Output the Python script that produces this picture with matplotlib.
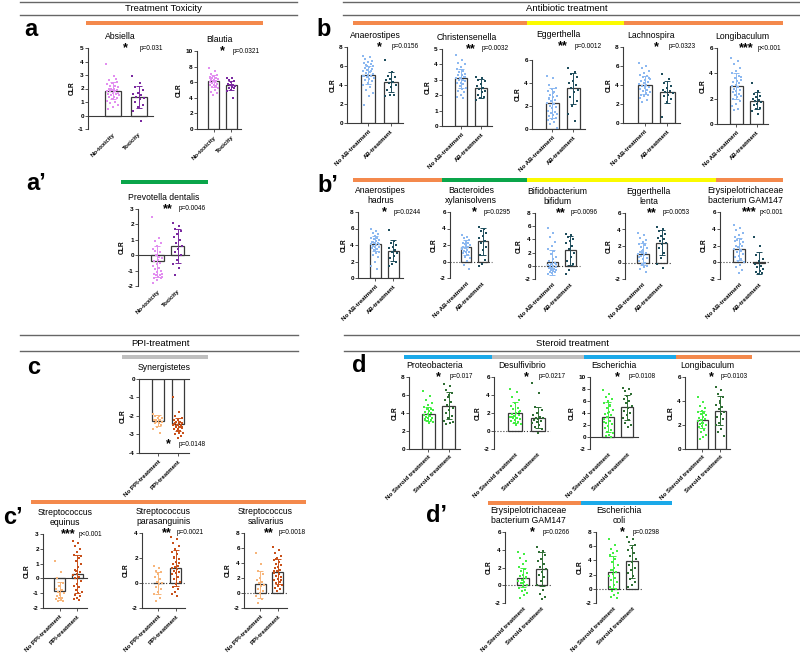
import numpy as np
import matplotlib
matplotlib.use('Agg')
import matplotlib.pyplot as plt
from matplotlib.lines import Line2D
from matplotlib.patches import Rectangle
from matplotlib.transforms import offset_copy

plt.rcParams['font.family'] = ['Liberation Sans', 'DejaVu Sans']
plt.rcParams['axes.unicode_minus'] = False

W, H = 800, 654

# ---- data (CLR values) ----
tox_labels = ['No-toxicity', 'Toxicity']
ab_labels = ['No AB-treatment', 'AB-treatment']
ppi_labels = ['No PPI-treatment', 'PPI-treatment']
st_labels = ['No Steroid treatment', 'Steroid treatment']

# a
absiella_means = [1.85, 1.35]
absiella_sd = [0.6, 0.8]
absiella_no = [3.8, 2.9, 2.6, 2.5, 2.4, 2.3, 2.2, 2.2, 2.1, 2.0, 2.0, 1.9, 1.9, 1.8, 1.8, 1.8, 1.7,
               1.7, 1.6, 1.6, 1.5, 1.5, 1.4, 1.4, 1.3, 1.2, 1.1, 1.0, 0.9, 0.8, 0.6, 0.5, 2.7, 2.0]
absiella_tox = [2.9, 2.4, 2.1, 1.9, 1.7, 1.6, 1.5, 1.4, 1.3, 1.2, 1.0, 0.8, 0.6, 0.3, -0.4]
blautia_means = [6.15, 5.6]
blautia_sd = [0.8, 0.6]
blautia_no = [7.8, 7.4, 7.1, 6.9, 6.8, 6.7, 6.6, 6.5, 6.4, 6.3, 6.3, 6.2, 6.1, 6.0, 6.0, 5.9, 5.8,
              5.7, 5.6, 5.5, 5.4, 5.2, 5.0, 4.8, 4.6, 4.3, 6.5, 6.1]
blautia_tox = [6.6, 6.5, 6.3, 6.1, 6.0, 5.8, 5.7, 5.6, 5.5, 5.4, 5.3, 5.2, 5.0, 4.9, 4.0]
# a'
prevotella_means = [-0.4, 0.6]
prevotella_sd = [1.0, 1.1]
prevotella_no = [2.5, 1.1, 0.9, 0.8, 0.6, 0.4, 0.2, 0.0, -0.2, -0.3, -0.4, -0.5, -0.6, -0.7, -0.8,
                 -0.9, -1.0, -1.1, -1.2, -1.3, -1.3, -1.4, -1.4, -1.5, -1.5, -1.6, -1.8, -0.1, 0.3, -1.2]
prevotella_tox = [2.1, 1.9, 1.7, 1.6, 1.4, 1.2, 1.0, 0.8, 0.6, 0.4, 0.2, 0.0, -0.3, -0.6, -0.8, -1.3]

# b
anaero_means = [5.1, 4.35]
anaero_sd = [0.95, 1.05]
anaero_no = [7.1, 6.9, 6.7, 6.5, 6.4, 6.3, 6.2, 6.1, 6.0, 5.9, 5.8, 5.7, 5.6, 5.5, 5.4, 5.3, 5.2, 5.1,
             5.0, 4.9, 4.8, 4.7, 4.6, 4.5, 4.4, 4.2, 4.0, 3.8, 3.5, 3.2, 2.8, 1.9, 5.5, 6.0, 4.9]
anaero_ab = [6.6, 5.4, 5.0, 4.8, 4.6, 4.5, 4.3, 4.2, 4.0, 3.8, 3.5, 3.0, 2.9, 2.8]
christ_means = [3.1, 2.45]
christ_sd = [0.6, 0.6]
christ_no = [4.6, 4.3, 4.1, 4.0, 3.8, 3.7, 3.6, 3.5, 3.4, 3.3, 3.3, 3.2, 3.1, 3.1, 3.0, 3.0, 2.9,
             2.8, 2.8, 2.7, 2.6, 2.5, 2.4, 2.3, 2.2, 2.0, 1.9, 1.8, 3.5, 3.2]
christ_ab = [3.2, 3.1, 3.0, 2.9, 2.7, 2.6, 2.5, 2.4, 2.3, 2.2, 2.0, 1.9, 1.8, 1.7]
egger_means = [2.25, 3.55]
egger_sd = [1.3, 1.35]
egger_no = [4.6, 4.4, 3.8, 3.6, 3.5, 3.3, 3.2, 3.0, 2.9, 2.8, 2.6, 2.5, 2.4, 2.3, 2.2, 2.0, 1.9,
            1.8, 1.6, 1.5, 1.4, 1.3, 1.2, 1.1, 1.0, 0.9, 0.8, 0.6, 0.4, 0.1, 3.1, 2.7]
egger_ab = [5.3, 5.0, 4.8, 4.5, 4.2, 4.0, 3.8, 3.6, 3.4, 3.2, 2.8, 2.4, 2.0, 1.3, 0.7]
lachno_means = [4.0, 3.3]
lachno_sd = [0.95, 1.15]
lachno_no = [6.3, 6.0, 5.8, 5.5, 5.3, 5.1, 4.9, 4.8, 4.6, 4.5, 4.4, 4.3, 4.2, 4.1, 4.0, 3.9, 3.8,
             3.7, 3.6, 3.5, 3.4, 3.3, 3.2, 3.0, 2.9, 2.8, 2.6, 2.4, 2.2, 4.7, 3.9]
lachno_ab = [5.2, 4.6, 4.2, 3.9, 3.7, 3.5, 3.4, 3.3, 3.2, 3.0, 2.8, 2.5, 2.2, 0.6]
longi_ab_means = [3.0, 1.85]
longi_ab_sd = [1.0, 0.65]
longi_no_ab = [5.2, 5.0, 4.7, 4.4, 4.2, 4.0, 3.8, 3.6, 3.5, 3.4, 3.3, 3.2, 3.1, 3.0, 2.9, 2.8, 2.7,
               2.6, 2.5, 2.4, 2.3, 2.2, 2.1, 2.0, 1.8, 1.6, 1.4, 1.2, 1.1, 3.7, 2.9]
longi_ab = [3.2, 2.6, 2.4, 2.2, 2.1, 2.0, 1.9, 1.8, 1.7, 1.6, 1.5, 1.3, 1.2, 1.0, 0.8]

# b'
hadrus_means = [4.15, 3.3]
hadrus_sd = [0.9, 1.25]
hadrus_no = [6.0, 5.7, 5.5, 5.3, 5.1, 4.9, 4.8, 4.7, 4.6, 4.5, 4.4, 4.3, 4.2, 4.1, 4.0, 3.9, 3.8,
             3.7, 3.6, 3.5, 3.4, 3.2, 3.0, 2.8, 2.5, 2.0, 1.5, 1.1, 4.4, 4.1]
hadrus_ab = [5.8, 4.5, 4.2, 4.0, 3.8, 3.6, 3.4, 3.2, 3.0, 2.7, 2.4, 2.0, 1.7, 1.4]
xylan_means = [1.7, 2.45]
xylan_sd = [0.9, 1.65]
xylan_no = [3.2, 3.0, 2.8, 2.6, 2.5, 2.3, 2.2, 2.1, 2.0, 1.9, 1.8, 1.7, 1.6, 1.5, 1.4, 1.3, 1.2,
            1.1, 1.0, 0.8, 0.6, 0.4, 0.1, -0.4, -0.9, 2.4, 1.6]
xylan_ab = [4.2, 4.0, 3.7, 3.4, 3.1, 2.8, 2.5, 2.2, 1.8, 1.4, 0.8, 0.2, -0.3, -0.6]
bifid_means = [0.55, 2.35]
bifid_sd = [1.9, 2.2]
bifid_no = [5.8, 5.0, 4.3, 3.6, 3.0, 2.6, 2.2, 1.8, 1.4, 1.0, 0.8, 0.5, 0.3, 0.1, 0.0, -0.1, -0.2,
            -0.3, -0.4, -0.5, -0.6, -0.7, -0.8, -0.9, -1.0, -1.1, -1.2, -0.5, -0.3, 0.2]
bifid_ab = [4.8, 4.6, 4.4, 4.0, 3.7, 3.4, 3.0, 2.5, 2.0, 1.4, 0.8, 0.3, -0.6, -1.3]
lenta_means = [1.05, 2.4]
lenta_sd = [1.3, 1.55]
lenta_no = [3.6, 3.3, 3.0, 2.7, 2.5, 2.3, 2.1, 1.9, 1.7, 1.5, 1.3, 1.2, 1.1, 1.0, 0.9, 0.8, 0.6,
            0.4, 0.2, 0.0, -0.2, -0.4, -0.6, -0.8, -1.1, 1.4, 0.7]
lenta_ab = [4.3, 4.0, 3.8, 3.5, 3.2, 3.0, 2.8, 2.6, 2.4, 2.2, 1.8, 1.2, 0.6, -0.2, -0.7]
erys_ab_means = [1.6, -0.05]
erys_ab_sd = [1.3, 1.3]
erys_no_ab = [4.4, 4.1, 3.8, 3.5, 3.2, 3.0, 2.8, 2.6, 2.4, 2.2, 2.0, 1.9, 1.8, 1.6, 1.4, 1.2, 1.0,
              0.8, 0.6, 0.4, 0.2, 0.0, -0.3, -0.6, -0.9, -1.3, 2.5, 1.5]
erys_ab = [3.0, 2.0, 0.9, 0.4, 0.1, -0.2, -0.4, -0.6, -0.8, -1.0, -1.2, -1.3, -1.4]

# c
synerg_means = [-2.25, -2.45]
synerg_sd = [0.3, 0.35]
synerg_no = [-1.9, -2.0, -2.0, -2.1, -2.1, -2.2, -2.2, -2.3, -2.3, -2.4, -2.4, -2.5, -2.6, -2.7, -2.9, -2.2]
synerg_ppi = [-0.95, -1.8, -2.0, -2.1, -2.2, -2.2, -2.3, -2.3, -2.4, -2.4, -2.4, -2.5, -2.5, -2.5,
              -2.6, -2.6, -2.6, -2.7, -2.7, -2.8, -2.8, -2.9, -2.9, -3.0, -3.1, -3.2, -2.45, -2.35, -2.55, -2.65]

# c'
equinus_means = [-0.85, 0.28]
equinus_sd = [0.6, 1.3]
equinus_no = [1.2, 0.4, 0.0, -0.3, -0.5, -0.7, -0.8, -0.9, -1.0, -1.1, -1.2, -1.3, -1.3, -1.4, -1.4,
              -1.5, -1.55, -1.0]
equinus_ppi = [2.55, 2.4, 2.2, 2.0, 1.8, 1.6, 1.4, 1.2, 1.0, 0.8, 0.6, 0.4, 0.3, 0.2, 0.1, 0.0, -0.2,
               -0.4, -0.5, -0.6, -0.8, -0.9, -1.0, -1.1, -1.2, -1.3, -1.4, -1.45, 0.5, 1.5]
parasang_means = [0.0, 1.2]
parasang_sd = [0.9, 1.45]
parasang_no = [1.4, 1.2, 1.0, 0.9, 0.7, 0.5, 0.3, 0.1, 0.0, -0.1, -0.3, -0.5, -0.7, -0.9, -1.2, -1.4]
parasang_ppi = [3.7, 3.5, 3.2, 3.0, 2.7, 2.5, 2.3, 2.1, 1.9, 1.7, 1.5, 1.4, 1.3, 1.2, 1.1, 1.0, 0.9,
                0.8, 0.7, 0.5, 0.3, 0.1, -0.1, -0.3, -0.5, -0.7, -0.9, -1.0, 2.0, 1.6]
saliv_means = [1.2, 2.85]
saliv_sd = [1.8, 1.7]
saliv_no = [5.3, 3.9, 3.0, 2.5, 2.0, 1.7, 1.5, 1.3, 1.1, 0.9, 0.6, 0.3, 0.0, -0.4, -0.8, -1.3]
saliv_ppi = [6.1, 5.8, 5.3, 5.0, 4.7, 4.4, 4.1, 3.9, 3.7, 3.5, 3.3, 3.1, 2.9, 2.7, 2.5, 2.3, 2.1,
             1.9, 1.7, 1.5, 1.3, 1.1, 0.9, 0.7, 0.5, 0.3, 3.0, 2.6, 4.5, 1.8]

# d
proteo_means = [3.9, 4.8]
proteo_sd = [0.8, 1.5]
proteo_no = [6.4, 5.9, 5.4, 5.1, 4.9, 4.7, 4.5, 4.4, 4.3, 4.2, 4.1, 4.0, 3.9, 3.8, 3.7, 3.6, 3.5,
             3.4, 3.3, 3.2, 3.1, 3.0, 2.9, 3.2, 3.5, 4.6]
proteo_st = [7.2, 7.0, 6.6, 6.2, 5.8, 5.5, 5.2, 4.9, 4.6, 4.3, 4.0, 3.7, 3.4, 3.1, 2.9, 2.8, 3.0, 6.0]
desulfo_means = [2.05, 1.5]
desulfo_sd = [1.2, 1.2]
desulfo_no = [4.7, 4.3, 3.8, 3.4, 3.1, 2.8, 2.6, 2.4, 2.2, 2.0, 1.9, 1.8, 1.7, 1.6, 1.5, 1.4, 1.3,
              1.2, 1.1, 1.0, 0.9, 0.8, 0.7, 1.6, 2.1]
desulfo_st = [5.3, 4.2, 2.7, 2.3, 2.0, 1.8, 1.6, 1.5, 1.4, 1.3, 1.2, 1.1, 1.0, 0.9, 0.7, 0.5, 0.2, -0.2]
esch_means = [3.4, 4.95]
esch_sd = [2.5, 2.1]
esch_no = [7.9, 7.2, 6.6, 6.3, 6.0, 5.6, 5.2, 4.8, 4.5, 4.2, 3.9, 3.6, 3.3, 3.0, 2.7, 2.4, 2.1, 1.8,
           1.5, 1.2, 0.9, 0.6, 0.3, 0.1, 0.0, 4.0, 2.5, 5.4]
esch_st = [8.2, 8.0, 7.6, 7.2, 6.8, 6.4, 6.0, 5.6, 5.2, 4.8, 4.4, 4.0, 3.6, 3.2, 2.8, 2.4, 2.0, 1.7]
longi_st_means = [2.45, 3.2]
longi_st_sd = [0.7, 1.2]
longi_no_st = [4.3, 3.9, 3.6, 3.4, 3.2, 3.1, 3.0, 2.9, 2.8, 2.7, 2.6, 2.5, 2.4, 2.3, 2.2, 2.1, 2.0,
               1.9, 1.8, 1.6, 1.4, 1.2, 1.0, 0.8, 2.5, 2.2]
longi_st = [5.2, 4.9, 4.6, 4.3, 4.0, 3.7, 3.5, 3.3, 3.1, 2.9, 2.7, 2.5, 2.2, 2.0, 1.7, 1.4, 1.1, 3.8]

# d'
erys_st_means = [0.85, 1.8]
erys_st_sd = [1.1, 1.9]
erys_no_st = [3.8, 3.5, 3.1, 2.7, 2.4, 2.1, 1.8, 1.6, 1.4, 1.2, 1.0, 0.8, 0.6, 0.5, 0.4, 0.2, 0.0,
              -0.1, -0.3, -0.5, -0.7, -0.9, -1.1, -1.4, 0.9, 0.3]
erys_st = [4.3, 3.9, 3.7, 3.4, 3.0, 2.7, 2.4, 2.1, 1.8, 1.5, 1.2, 0.9, 0.5, 0.0, -0.5, -1.0, -1.3, -1.5]
ecoli_means = [2.35, 3.85]
ecoli_sd = [2.2, 2.3]
ecoli_no = [7.0, 6.2, 5.6, 5.3, 5.0, 4.6, 4.2, 3.8, 3.4, 3.0, 2.7, 2.4, 2.1, 1.8, 1.5, 1.2, 0.9, 0.6,
            0.3, 0.0, -0.3, -0.6, -0.9, -1.2, -1.3, 2.6, 4.8]
ecoli_st = [7.3, 7.0, 6.6, 6.2, 5.8, 5.4, 5.0, 4.6, 4.2, 3.8, 3.4, 3.0, 2.6, 2.2, 1.8, 1.4, 1.0, 0.5, 0.2]

# colours
tox_cols = ['#e28ef0', '#7a2aa0']
ab_cols = ['#8cb8f0', '#1e4d5c']
ppi_cols = ['#f7b57a', '#c8501a']
st_cols = ['#44ee44', '#2f6e34']
ORANGE, YELLOW, GREEN, GRAY, BLUE = '#f4894c', '#fbfb00', '#0aa54a', '#bfbfbf', '#1ba9e9'
LINE = '#3a3a3a'

fig = plt.figure(figsize=(8, 6.54), dpi=100)


def fx(x):
    return x / W


def fy(y):
    return 1 - y / H


def panel(box, title, ylim, step, means, sds, g1, g2, cols, labels, stars, pval,
          bottom=False, zero_ls='-', sig_y=1.0, title_off=7):
    x0, x1, ytop, ybot = box
    ax = fig.add_axes([fx(x0), fy(ybot), (x1 - x0) / W, (ybot - ytop) / H])
    ax.bar([0, 1], means, width=0.62, color='white', edgecolor=LINE, lw=0.9, zorder=1)
    for i, pts in enumerate([g1, g2]):
        pts = np.asarray(pts)
        jit = ((np.arange(len(pts)) * 0.618034) % 1 - 0.5) * 0.5
        ax.scatter(i + jit, pts, s=3.0, marker='s', color=cols[i], lw=0, zorder=2)
        ax.errorbar(i, means[i], yerr=sds[i], fmt='none', ecolor=cols[i],
                    elinewidth=0.7, capsize=2, capthick=0.7, zorder=3)
    ax.set_xlim(-0.95, 1.55)
    ax.set_ylim(*ylim)
    ax.set_yticks(np.arange(ylim[0], ylim[1] + step / 2, step))
    ax.spines[['top', 'right']].set_visible(False)
    ax.spines['left'].set_linewidth(0.8)
    ax.spines['left'].set_color(LINE)
    show_bottom = bottom or ylim[0] == 0
    ax.spines['bottom'].set_visible(show_bottom)
    ax.spines['bottom'].set_linewidth(0.8)
    ax.spines['bottom'].set_color(LINE)
    if ylim[0] < 0:
        ax.axhline(0, color=LINE, lw=0.8, ls=zero_ls, zorder=1.5, clip_on=False)
    ax.set_xticks([0, 1])
    ax.set_xticklabels(labels, rotation=45, ha='right', rotation_mode='anchor',
                       fontsize=4.4, fontweight='bold')
    ax.tick_params(axis='x', length=2 if show_bottom else 0, width=0.6, pad=2, colors=LINE)
    ax.tick_params(axis='y', length=2, width=0.6, pad=1, labelsize=4.6, colors=LINE)
    for t in ax.get_yticklabels():
        t.set_fontweight('bold')
        t.set_color('black')
    for t in ax.get_xticklabels():
        t.set_color('black')
    ax.set_ylabel('CLR', fontsize=4.8, fontweight='bold', labelpad=2)
    ax.text(0.5, 1, title, transform=offset_copy(ax.transAxes, fig, x=0, y=title_off, units='dots'),
            ha='center', va='bottom', fontsize=6.2, linespacing=1.15)
    ax.text(0.58, sig_y, stars, transform=ax.transAxes, ha='center', va='center',
            fontsize=9, fontweight='bold')
    ax.text(0.8, sig_y, pval, transform=ax.transAxes, ha='left', va='center', fontsize=4.7)
    return ax


# ---- section headers ----
def header(x0, x1, y1, y2, text, xc):
    for y in (y1, y2):
        fig.add_artist(Line2D([fx(x0), fx(x1)], [fy(y), fy(y)], color='#666666', lw=1.0))
    fig.text(fx(xc), fy((y1 + y2) / 2), text, ha='center', va='center', fontsize=6.8)


header(20, 297, 2, 15, 'Treatment Toxicity', 163)
header(343, 800, 2, 15, 'Antibiotic treatment', 567)
header(20, 298, 335, 351, 'PPI-treatment', 160)
header(344, 800, 335, 351, 'Steroid treatment', 572)

# ---- colour strips ----
strips = [(86, 263, 23, ORANGE), (121, 208, 182, GREEN),
          (353, 527, 23, ORANGE), (527, 624, 23, YELLOW), (624, 783, 23, ORANGE),
          (353, 442, 180, ORANGE), (442, 527, 180, GREEN), (527, 716, 180, YELLOW), (716, 783, 180, ORANGE),
          (122, 208, 357, GRAY), (31, 306, 502, ORANGE),
          (404, 492, 357, BLUE), (492, 584, 357, GRAY), (584, 676, 357, BLUE), (676, 752, 357, ORANGE),
          (488, 581, 503, ORANGE), (581, 672, 503, BLUE)]
for x0, x1, y, c in strips:
    fig.add_artist(Rectangle((fx(x0), fy(y + 2)), (x1 - x0) / W, 4 / H, color=c, lw=0))

# ---- panel letters ----
for lab, x, y in [('a', 24, 30), ('a\u2019', 26, 184), ('b', 316, 29), ('b\u2019', 317, 185),
                  ('c', 27, 367), ('c\u2019', 3, 518), ('d', 352, 365), ('d\u2019', 426, 516)]:
    fig.text(fx(x), fy(y), lab, ha='left', va='center', fontsize=17, fontweight='bold')

# ---- a ----
panel((88, 153, 48, 129), 'Absiella', (-1, 5), 1, absiella_means, absiella_sd,
      absiella_no, absiella_tox, tox_cols, tox_labels, '*', 'p=0.031')
panel((197, 241, 51, 129), 'Blautia', (0, 10), 2, blautia_means, blautia_sd,
      blautia_no, blautia_tox, tox_cols, tox_labels, '*', 'p=0.0321')
panel((138, 189, 209, 286), 'Prevotella dentalis', (-2, 3), 1, prevotella_means, prevotella_sd,
      prevotella_no, prevotella_tox, tox_cols, tox_labels, '**', 'p=0.0046')

# ---- b ----
panel((347, 403, 47, 123), 'Anaerostipes', (0, 8), 2, anaero_means, anaero_sd,
      anaero_no, anaero_ab, ab_cols, ab_labels, '*', 'p=0.0156')
panel((442, 492, 49, 126), 'Christensenella', (0, 5), 1, christ_means, christ_sd,
      christ_no, christ_ab, ab_cols, ab_labels, '**', 'p=0.0032')
panel((532, 585, 60, 129), 'Eggerthella', (0, 6), 2, egger_means, egger_sd,
      egger_no, egger_ab, ab_cols, ab_labels, '**', 'p=0.0012', sig_y=1.2, title_off=21)
panel((623, 680, 47, 123), 'Lachnospira', (0, 8), 2, lachno_means, lachno_sd,
      lachno_no, lachno_ab, ab_cols, ab_labels, '*', 'p=0.0323')
panel((717, 768, 48, 124), 'Longibaculum', (0, 6), 2, longi_ab_means, longi_ab_sd,
      longi_no_ab, longi_ab, ab_cols, ab_labels, '***', 'p<0.001')

# ---- b' ----
panel((358, 403, 212, 278), 'Anaerostipes\nhadrus', (0, 8), 2, hadrus_means, hadrus_sd,
      hadrus_no, hadrus_ab, ab_cols, ab_labels, '*', 'p=0.0244')
panel((450, 492, 212, 278), 'Bacteroides\nxylanisolvens', (-2, 6), 2, xylan_means, xylan_sd,
      xylan_no, xylan_ab, ab_cols, ab_labels, '*', 'p=0.0295', zero_ls=':')
panel((535, 580, 213, 279), 'Bifidobacterium\nbifidum', (-2, 8), 2, bifid_means, bifid_sd,
      bifid_no, bifid_ab, ab_cols, ab_labels, '**', 'p=0.0096', zero_ls=':')
panel((625, 672, 213, 279), 'Eggerthella\nlenta', (-2, 6), 2, lenta_means, lenta_sd,
      lenta_no, lenta_ab, ab_cols, ab_labels, '**', 'p=0.0053', zero_ls=':')
panel((720, 770, 212, 279), 'Erysipelotrichaceae\nbacterium GAM147', (-2, 6), 2, erys_ab_means, erys_ab_sd,
      erys_no_ab, erys_ab, ab_cols, ab_labels, '***', 'p<0.001', zero_ls=':')

# ---- c ----
panel((139, 189, 379, 453), 'Synergistetes', (-4, 0), 1, synerg_means, synerg_sd,
      synerg_no, synerg_ppi, ppi_cols, ppi_labels, '*', 'p=0.0148', bottom=True, sig_y=0.12)

# ---- c' ----
panel((43, 87, 534, 608), 'Streptococcus\nequinus', (-2, 3), 1, equinus_means, equinus_sd,
      equinus_no, equinus_ppi, ppi_cols, ppi_labels, '***', 'p<0.001', bottom=True)
panel((142, 185, 533, 608), 'Streptococcus\nparasanguinis', (-2, 4), 2, parasang_means, parasang_sd,
      parasang_no, parasang_ppi, ppi_cols, ppi_labels, '**', 'p=0.0021', bottom=True, zero_ls=':')
panel((244, 287, 533, 608), 'Streptococcus\nsalivarius', (-2, 8), 2, saliv_means, saliv_sd,
      saliv_no, saliv_ppi, ppi_cols, ppi_labels, '**', 'p=0.0018', bottom=True, zero_ls=':')

# ---- d ----
panel((409, 460, 377, 449), 'Proteobacteria', (0, 8), 2, proteo_means, proteo_sd,
      proteo_no, proteo_st, st_cols, st_labels, '*', 'p=0.017')
panel((494, 550, 377, 449), 'Desulfivibrio', (-2, 6), 2, desulfo_means, desulfo_sd,
      desulfo_no, desulfo_st, st_cols, st_labels, '*', 'p=0.0217', zero_ls=':')
panel((590, 638, 377, 449), 'Escherichia', (-2, 10), 2, esch_means, esch_sd,
      esch_no, esch_st, st_cols, st_labels, '*', 'p=0.0108')
panel((685, 730, 377, 449), 'Longibaculum', (0, 6), 2, longi_st_means, longi_st_sd,
      longi_no_st, longi_st, st_cols, st_labels, '*', 'p=0.0103')

# ---- d' ----
panel((505, 552, 532, 603), 'Erysipelotrichaceae\nbacterium GAM147', (-2, 6), 2, erys_st_means, erys_st_sd,
      erys_no_st, erys_st, st_cols, st_labels, '*', 'p=0.0266', zero_ls=':')
panel((596, 642, 532, 603), 'Escherichia\ncoli', (-2, 8), 2, ecoli_means, ecoli_sd,
      ecoli_no, ecoli_st, st_cols, st_labels, '*', 'p=0.0298', zero_ls=':')

fig.savefig('out.png', dpi=100, facecolor='white')
